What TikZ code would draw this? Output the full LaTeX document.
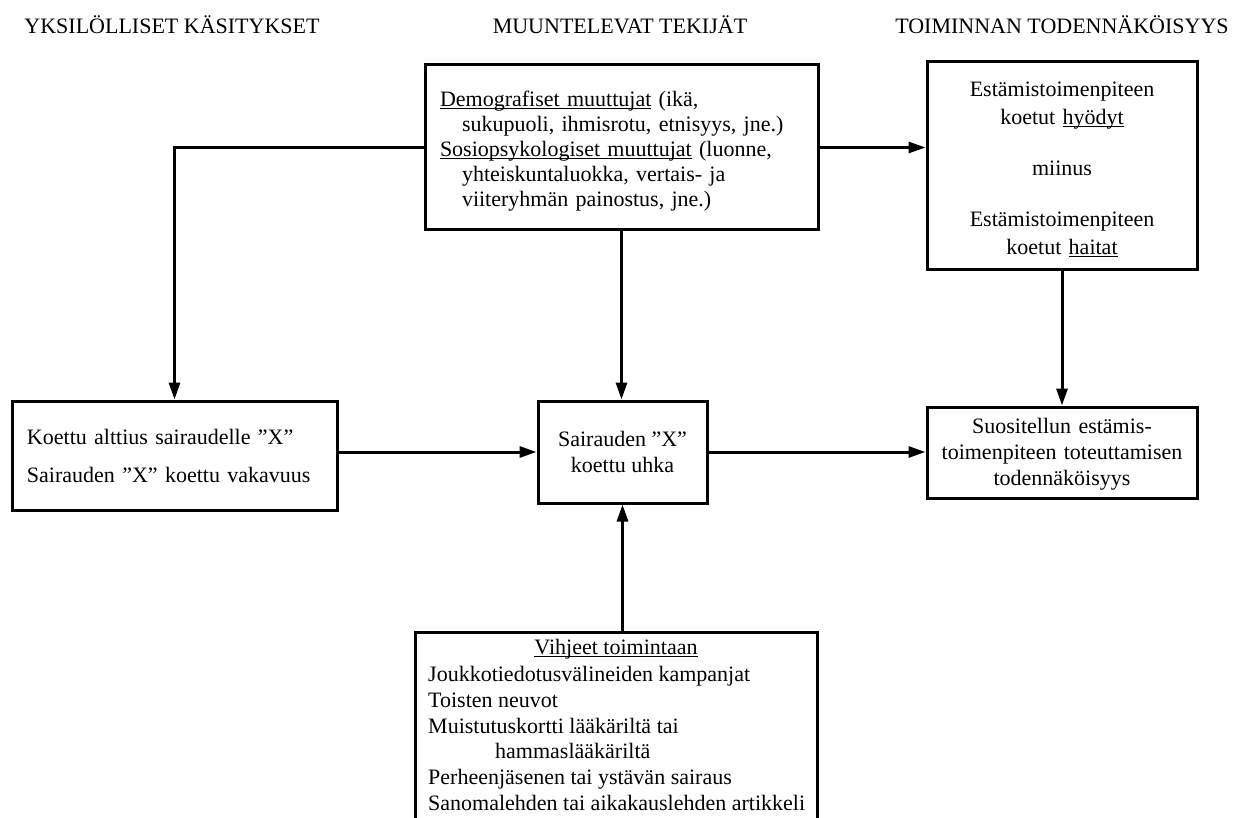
\documentclass[tikz,border=0pt]{standalone}
\usepackage{fontspec}
\setmainfont{Liberation Serif}
\usetikzlibrary{arrows.meta,shadows}
% underline that runs through descenders, as in word-processor text
\newsavebox\ulbox
\newcommand\ulword[1]{\leavevmode\sbox\ulbox{#1}%
  \rlap{\rule[-2.6pt]{\wd\ulbox}{1pt}}\usebox\ulbox}

\begin{document}
\begin{tikzpicture}[x=1pt,y=-1pt,
  every node/.style={font=\fontsize{22}{25.5}\selectfont},
  box/.style={draw, line width=3pt, fill=white,
    drop shadow={shadow xshift=1.5pt, shadow yshift=-1.5pt, opacity=0.25}},
  arr/.style={line width=3pt, -{Triangle[length=17pt,width=11pt]}}]

\useasboundingbox (0,0) rectangle (1237,818);
\clip (0,0) rectangle (1237,818);

% column headings
\node (h1) at (172,25) {YKSILÖLLISET KÄSITYKSET};
\node (h2) at (620,25) {MUUNTELEVAT TEKIJÄT};
\node (h3) at (1062,25) {TOIMINNAN TODENNÄKÖISYYS};

% modifying factors
\node[box, minimum width=393pt, minimum height=165pt, text width=363pt,
  inner xsep=15pt, align=left, font=\fontsize{22}{25}\selectfont]
  (demo) at (621.5,147.5)
  {\rule{0pt}{23pt}\ulword{Demografiset muuttujat} (ikä,\\
   \hspace*{22pt}sukupuoli, ihmisrotu, etnisyys, jne.)\\
   \ulword{Sosiopsykologiset muuttujat} (luonne,\\
   \hspace*{22pt}yhteiskuntaluokka, vertais- ja\\
   \hspace*{22pt}viiteryhmän painostus, jne.)};

% benefits minus barriers
\node[box, minimum width=270pt, minimum height=208pt, text width=250pt,
  inner xsep=10pt, align=center, font=\fontsize{22}{28}\selectfont]
  (gain) at (1062,166)
  {\rule{0pt}{22pt}Estämistoimenpiteen\\koetut \ulword{hyödyt}\\[23pt]miinus\\[23pt]%
   Estämistoimenpiteen\\koetut \ulword{haitat}};

% likelihood of action
\node[box, minimum width=270pt, minimum height=91pt, text width=250pt,
  inner xsep=10pt, align=center, font=\fontsize{22}{26}\selectfont]
  (act) at (1062,452.5)
  {\rule{0pt}{18pt}Suositellun estämis-\\toimenpiteen toteuttamisen\\todennäköisyys};

% perceived threat
\node[box, minimum width=169pt, minimum height=102pt, align=center,
  font=\fontsize{22}{26}\selectfont]
  (threat) at (622.5,452) {Sairauden ”X”\\koettu uhka};

% individual perceptions
\node[box, minimum width=325pt, minimum height=109pt, text width=295pt,
  inner xsep=15pt, align=left] (perc) at (174.5,455.5)
  {Koettu alttius sairaudelle ”X”\\[12.5pt]Sairauden ”X” koettu vakavuus};

% cues to action
\node[box, anchor=north, minimum width=402pt, minimum height=240pt]
  (cues) at (616,631) {};
\node[anchor=base] (cueshead) at (616,654) {\ulword{Vihjeet toimintaan}};
\node[anchor=north west, inner sep=0pt, align=left,
  font=\fontsize{22}{25.8}\selectfont] (cuelist) at (428,666)
  {Joukkotiedotusvälineiden kampanjat\\
   Toisten neuvot\\
   Muistutuskortti lääkäriltä tai\\
   \hspace*{67pt}hammaslääkäriltä\\
   Perheenjäsenen tai ystävän sairaus\\
   Sanomalehden tai aikakauslehden artikkeli};

% connectors
\draw[arr] (demo.west) -| (perc.north);
\draw[arr] (demo.east) -- (demo.east -| gain.west);
\draw[arr] (demo.south) -- (demo.south |- threat.north);
\draw[arr] (gain.south) -- (act.north);
\draw[arr] (threat.west -| perc.east) -- (threat.west);
\draw[arr] (threat.east) -- (threat.east -| act.west);
\draw[arr] (threat.south |- cues.north) -- (threat.south);
\end{tikzpicture}
\end{document}
